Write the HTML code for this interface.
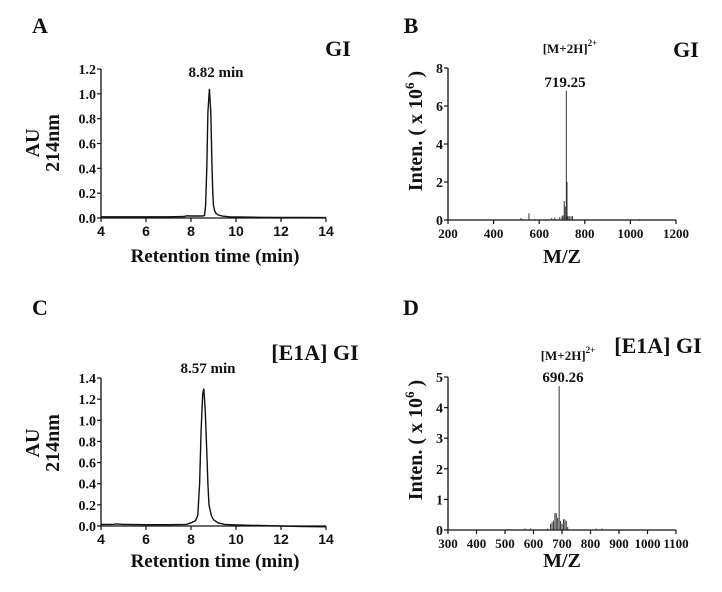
<!DOCTYPE html>
<html><head><meta charset="utf-8"><style>
body{margin:0;background:#fff}
svg text{font-family:"Liberation Serif",serif;font-weight:bold;fill:#111}
.sans{font-family:"Liberation Sans",sans-serif!important}
</style></head><body>
<svg id="s" width="722" height="587" xmlns="http://www.w3.org/2000/svg"></svg>
<script>
// Panel A chromatogram (time min, AU)
const aTime=[4,5,6,7,7.7,7.8,8.0,8.5,8.6,8.65,8.7,8.75,8.82,8.88,8.93,8.97,9.0,9.05,9.1,9.2,9.4,9.7,10,11,12,13,14];
const aAU=[0.01,0.01,0.01,0.01,0.012,0.018,0.016,0.016,0.02,0.1,0.4,0.85,1.04,0.85,0.45,0.2,0.1,0.06,0.04,0.025,0.015,0.01,0.008,0.006,0.005,0.004,0.003];
// Panel C chromatogram
const cTime=[4,4.5,4.7,5,6,7,7.8,8.0,8.2,8.3,8.38,8.45,8.52,8.57,8.63,8.7,8.75,8.8,8.9,9.0,9.2,9.5,10,11,12,13,14];
const cAU=[0.015,0.015,0.02,0.015,0.012,0.012,0.015,0.03,0.05,0.1,0.4,0.9,1.25,1.3,1.1,0.7,0.4,0.2,0.1,0.06,0.03,0.015,0.01,0.005,0.0,-0.005,-0.008];
// Panel B mass spectrum (m/z, intensity x1e6)
const bMZ=[520,530,555,580,655,668,690,700,705,710,714,719,722,726,732,740,746,1040];
const bInt=[0.1,0.05,0.35,0.05,0.1,0.12,0.15,0.2,0.25,1.0,0.7,6.8,2.0,0.2,0.2,0.2,0.2,0.05];
// Panel D mass spectrum
const dMZ=[510,570,590,650,660,665,670,675,680,685,690,695,700,705,710,715,720,820,840];
const dInt=[0.03,0.05,0.05,0.05,0.2,0.25,0.3,0.55,0.55,0.4,4.7,0.3,0.2,0.35,0.35,0.3,0.1,0.05,0.05];
const chromTicks=[4,6,8,10,12,14];
const aYTicks=["0.0","0.2","0.4","0.6","0.8","1.0","1.2"];
const cYTicks=["0.0","0.2","0.4","0.6","0.8","1.0","1.2","1.4"];
const bXTicks=[200,400,600,800,1000,1200];
const bYTicks=[0,2,4,6,8];
const dXTicks=[300,400,500,600,700,800,900,1000,1100];
const dYTicks=[0,1,2,3,4,5];

const S=document.getElementById('s');const NS="http://www.w3.org/2000/svg";
function mk(t,a,txt,parent){const e=document.createElementNS(NS,t);for(const k in a)e.setAttribute(k,a[k]);if(txt!==undefined)e.textContent=txt;(parent||S).appendChild(e);return e;}
function txt(x,y,s,size,name,anchor,cls,rot){const e=mk('text',{x:x,y:y,'font-size':size,'text-anchor':anchor||'middle'},s);


if(cls)e.setAttribute('class',cls);if(rot)e.setAttribute('transform','rotate(-90 '+x+' '+y+')');return e;}
function axes(p,xt,yt,sans,tsize){
 const X=v=>p.x0+(v-p.xmin)/(p.xmax-p.xmin)*(p.x1-p.x0);
 const Y=v=>p.y0-(v-p.ymin)/(p.ymax-p.ymin)*(p.y0-p.y1);
 const ax=mk('path',{d:`M${p.x0} ${p.y1}V${p.y0}H${p.x1}`,stroke:'#111','stroke-width':1.3,fill:'none'});
 
 
 xt.forEach(v=>{const xx=X(+v);const t=mk('line',{x1:xx,x2:xx,y1:p.y0,y2:p.y0+4,stroke:'#111','stroke-width':1.2});
  
  
  txt(xx,p.y0+18,String(v),tsize,'x-tick-label','middle',sans?'sans':'');});
 yt.forEach(v=>{const yy=Y(+v);const t=mk('line',{x1:p.x0-4,x2:p.x0,y1:yy,y2:yy,stroke:'#111','stroke-width':1.2});
  
  
  txt(p.x0-5,yy+5,String(v),14,'y-tick-label','end');});
 return [X,Y];}
function chrom(p,xs,ys){const [X,Y]=axes(p,chromTicks,p.yt,true,14);
 const d=xs.map((v,i)=>(i?'L':'M')+X(v).toFixed(1)+' '+Y(ys[i]).toFixed(1)).join('');
 const l=mk('path',{d:d,stroke:'#111','stroke-width':1.4,fill:'none'});
 
 }
function ms(p,xt,yt,xs,ys){const [X,Y]=axes(p,xt,yt,false,13);
 xs.forEach((v,i)=>{const l=mk('line',{x1:X(v),x2:X(v),y1:p.y0,y2:Y(ys[i]),stroke:'#333','stroke-width':1});
  
  });}
function ionLabel(x,y,name){const t=txt(x,y,'[M+2H]',13,name);
 mk('tspan',{dy:-7,'font-size':9},'2+',t);}
function intenTitle(x,y,name){const t=txt(x,y,'Inten. ( x 10',20,name,'middle','',true);
 mk('tspan',{dy:-8,'font-size':13},'6',t);
 mk('tspan',{dy:8},' )',t);}

// Panel A
txt(40,33,'A',22,'panel-a-label');
txt(338,56,'GI',22,'panel-a-title');
txt(216,77,'8.82 min',15,'peak-a-label');
chrom({n:'panel-a',x0:101,x1:326,y0:218,y1:69,xmin:4,xmax:14,ymin:0,ymax:1.2,yt:aYTicks},aTime,aAU);
txt(215,262,'Retention time (min)',19,'x-axis-title-a');
txt(39,143,'AU',20,'y-axis-title-a','middle','',true);
txt(59,143,'214nm',20,'y-axis-title-a2','middle','',true);
// Panel B
txt(411,33,'B',22,'panel-b-label');
txt(686,57,'GI',22,'panel-b-title');
ionLabel(570,53,'ion-label-b');
txt(565,87,'719.25',15,'peak-b-label');
ms({n:'panel-b',x0:448,x1:676,y0:220,y1:68,xmin:200,xmax:1200,ymin:0,ymax:8},bXTicks,bYTicks,bMZ,bInt);
txt(562,263,'M/Z',20,'x-axis-title-b');
intenTitle(422,131,'y-axis-title-b');
// Panel C
txt(40,315,'C',22,'panel-c-label');
txt(315,360,'[E1A] GI',22,'panel-c-title');
txt(208,373,'8.57 min',15,'peak-c-label');
chrom({n:'panel-c',x0:101,x1:326,y0:526,y1:378,xmin:4,xmax:14,ymin:0,ymax:1.4,yt:cYTicks},cTime,cAU);
txt(215,567,'Retention time (min)',19,'x-axis-title-c');
txt(39,443,'AU',20,'y-axis-title-c','middle','',true);
txt(59,443,'214nm',20,'y-axis-title-c2','middle','',true);
// Panel D
txt(411,315,'D',22,'panel-d-label');
txt(658,353,'[E1A] GI',22,'panel-d-title');
ionLabel(568,360,'ion-label-d');
txt(563,382,'690.26',15,'peak-d-label');
ms({n:'panel-d',x0:448,x1:676,y0:530,y1:377,xmin:300,xmax:1100,ymin:0,ymax:5},dXTicks,dYTicks,dMZ,dInt);
txt(562,567,'M/Z',20,'x-axis-title-d');
intenTitle(422,440,'y-axis-title-d');
</script>
</body></html>
